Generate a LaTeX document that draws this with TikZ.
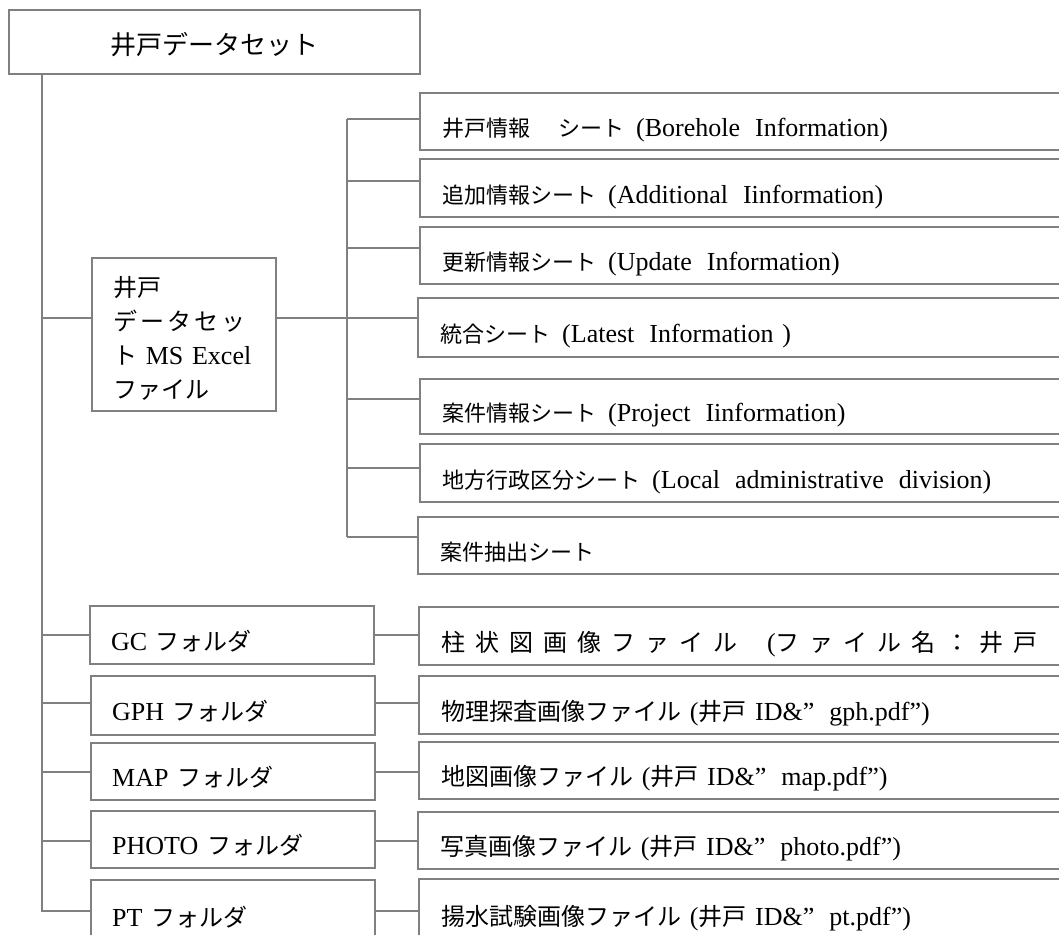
\documentclass[tikz,border=0pt]{standalone}
\usepackage{fontspec}
\setmainfont{Liberation Serif}
\newfontfamily\jp{Noto Sans CJK JP}
\definecolor{lg}{HTML}{808080}
\newcommand\Js[1]{{\jp\fontsize{22}{34}\selectfont #1}}
\newcommand\Jm[1]{{\jp\fontsize{24}{34}\selectfont #1}}
\newcommand\Jt[1]{{\jp\fontsize{26}{34}\selectfont #1}}
\newcommand\dsp{\hspace{15pt}}
\newcommand\ks{\kern10pt}
\tikzset{
  ln/.style={draw=lg, line width=2.4pt},
  bx/.style={draw=lg, line width=2.4pt, anchor=north west, inner ysep=0pt, align=left,
    font=\fontsize{26}{34}\selectfont, text height=32pt, text depth=2pt},
  sheet/.style={bx, inner xsep=22pt, text width=660pt},
  folder/.style={bx, inner xsep=21pt, text width=242pt},
  file/.style={bx, inner xsep=22pt, text width=660pt},
}
\begin{document}
\begin{tikzpicture}[x=1pt,y=-1pt]
\useasboundingbox (0,0) rectangle (1059,934);
\clip (0,0) rectangle (1059,934);
\fill[white] (0,0) rectangle (1059,934);

% top
\node[bx, inner xsep=0pt, text width=411pt, minimum height=64pt, align=center,
  text height=26pt] (top) at (8,9) {\Jt{井戸データセット}};

% excel box
\node[draw=lg, line width=2.4pt, anchor=north west, minimum width=184pt, minimum height=153pt,
  inner xsep=21pt, inner ysep=0pt, text width=142pt, align=left, font=\fontsize{26}{34}\selectfont,
  text height=38pt, text depth=115pt]
  (xl) at (91,257) {\Jm{井戸}\\\Jm{デ\kern3ptー\kern3ptタ\kern3ptセ\kern3ptッ}\\\Jm{ト} MS Excel\\\Jm{ファイル}};

% sheets
\node[sheet, minimum height=57pt] (s1) at (419,92) {\Js{井戸情報\hspace{28pt}シート}\hspace{12pt}(Borehole\dsp Information)};
\node[sheet, minimum height=58pt] (s2) at (419,158) {\Js{追加情報シート}\hspace{12pt}(Additional\dsp Iinformation)};
\node[sheet, minimum height=57pt] (s3) at (419,226) {\Js{更新情報シート}\hspace{12pt}(Update\dsp Information)};
\node[sheet, minimum height=59pt] (s4) at (417,297) {\Js{統合シート}\hspace{12pt}(Latest\dsp Information\ )};
\node[sheet, minimum height=55pt] (s5) at (419,378) {\Js{案件情報シート}\hspace{12pt}(Project\dsp Iinformation)};
\node[sheet, minimum height=58pt] (s6) at (419,443) {\Js{地方行政区分シート}\hspace{12pt}(Local\dsp administrative\dsp division)};
\node[sheet, minimum height=57pt] (s7) at (417,516) {\Js{案件抽出シート}};

% folders
\node[folder, minimum height=58pt] (gc) at (89,605) {GC \Jm{フォルダ}};
\node[folder, minimum height=59pt] (gph) at (90,675) {GPH \Jm{フォルダ}};
\node[folder, minimum height=57pt] (map) at (90,742) {MAP \Jm{フォルダ}};
\node[folder, minimum height=57pt] (photo) at (90,810) {PHOTO \Jm{フォルダ}};
\node[folder, minimum height=62pt] (pt) at (90,879) {PT \Jm{フォルダ}};

% files
\node[file, minimum height=58pt] (fgc) at (418,606) {\Jm{柱\ks 状\ks 図\ks 画\ks 像\ks フ\ks ァ\ks イ\ks ル}\hspace{30pt}(\Jm{フ\ks ァ\ks イ\ks ル\ks 名\ks ：\ks 井\ks 戸}};
\node[file, minimum height=58pt] (fgph) at (418,675) {\Jm{物理探査画像ファイル} (\Jm{井戸} ID\&”\dsp gph.pdf”)};
\node[file, minimum height=57pt] (fmap) at (418,741) {\Jm{地図画像ファイル} (\Jm{井戸} ID\&”\dsp map.pdf”)};
\node[file, minimum height=57pt] (fphoto) at (417,811) {\Jm{写真画像ファイル} (\Jm{井戸} ID\&”\dsp photo.pdf”)};
\node[file, minimum height=62pt] (fpt) at (418,878) {\Jm{揚水試験画像ファイル} (\Jm{井戸} ID\&”\dsp pt.pdf”)};

% main trunk
\coordinate (mt) at (42,912);
\draw[ln] (top.south -| mt) -- (mt);
\coordinate (jx) at (42,318);
\draw[ln] (jx) -- (jx -| xl.west);

% sub trunk
\coordinate (st) at (347,119);
\coordinate (sb) at (347,537);
\draw[ln] (st) -- (sb);
\foreach \n/\yy in {s1/119, s2/181, s3/248, s4/318, s5/399, s6/468, s7/537}{
  \coordinate (j\n) at (347,\yy);
  \draw[ln] (j\n) -- (j\n -| \n.west);
}
\draw[ln] (js4 -| xl.east) -- (js4);

% folder branches
\foreach \n/\yy in {gc/635, gph/703, map/772, photo/841, pt/911}{
  \coordinate (m\n) at (42,\yy);
  \draw[ln] (m\n) -- (m\n -| \n.west);
  \draw[ln] (m\n -| \n.east) -- (m\n -| f\n.west);
}
\end{tikzpicture}
\end{document}
